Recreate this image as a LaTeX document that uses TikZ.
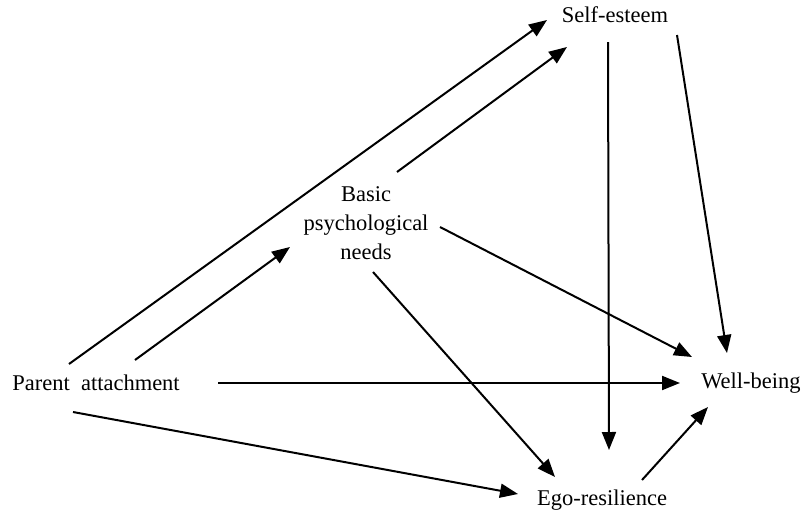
\documentclass[tikz,border=0pt]{standalone}
\usepackage{fontspec}
\setmainfont{Liberation Serif}
\usetikzlibrary{arrows.meta}
\tikzset{
  lbl/.style={font=\fontsize{22.5}{29}\selectfont, align=center, inner sep=0pt},
  arr/.style={line width=2pt, -{Triangle[length=18pt,width=14pt]}}
}
\begin{document}
\begin{tikzpicture}[x=1pt,y=-1pt]
\useasboundingbox (0,0) rectangle (804,520);
\node[lbl] (se) at (615,15) {Self-esteem};
\node[lbl] (bpn) at (366,223) {Basic\\psychological\\needs};
\node[lbl] (pa) at (96,383) {Parent\ \ attachment};
\node[lbl] (wb) at (751,383) {Well-being};
\node[lbl] (ego) at (602,500) {Ego-resilience};
\draw[arr] ([shift={(-27,-19)}]pa.center) -- ([shift={(-68,5)}]se.center);
\draw[arr] ([shift={(39,-23)}]pa.center) -- ([shift={(-76,24)}]bpn.center);
\draw[arr] ([shift={(31,-51)}]bpn.center) -- ([shift={(-48,32)}]se.center);
\draw[arr] ([shift={(74,4)}]bpn.center) -- ([shift={(-59,-26)}]wb.center);
\draw[arr] ([shift={(7,49)}]bpn.center) -- ([shift={(-47,-23)}]ego.center);
\draw[arr] ([shift={(-7,27)}]se.center) -- ([shift={(7,-50)}]ego.center);
\draw[arr] ([shift={(62,20)}]se.center) -- ([shift={(-24,-30)}]wb.center);
\draw[arr] ([shift={(122,0)}]pa.center) -- ([shift={(-71,0)}]wb.center);
\draw[arr] ([shift={(-23,29)}]pa.center) -- ([shift={(-84,-6)}]ego.center);
\draw[arr] ([shift={(40,-20)}]ego.center) -- ([shift={(-43,24)}]wb.center);
\end{tikzpicture}
\end{document}
